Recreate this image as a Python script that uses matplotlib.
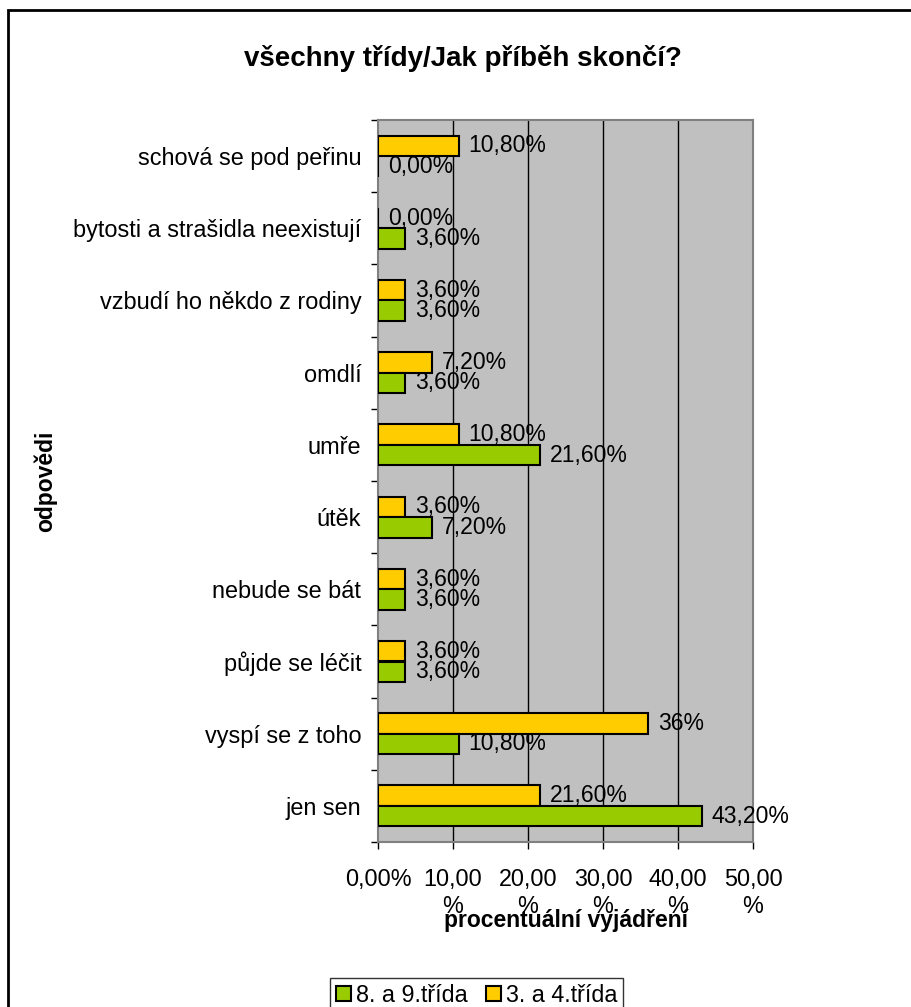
import numpy as np
import matplotlib.pyplot as plt
from matplotlib.patches import Rectangle
from matplotlib.ticker import FixedLocator

plt.rcParams['font.family'] = ['Liberation Sans', 'DejaVu Sans']

# data (top to bottom as in the chart)
odpovedi = ['schová se pod peřinu', 'bytosti a strašidla neexistují', 'vzbudí ho někdo z rodiny',
            'omdlí', 'umře', 'útěk', 'nebude se bát', 'půjde se léčit', 'vyspí se z toho', 'jen sen']
trida_8_9 = [0, 3.6, 3.6, 3.6, 21.6, 7.2, 3.6, 3.6, 10.8, 43.2]
trida_3_4 = [10.8, 0, 3.6, 7.2, 10.8, 3.6, 3.6, 3.6, 36, 21.6]
popisky_8_9 = ['0,00%', '3,60%', '3,60%', '3,60%', '21,60%', '7,20%', '3,60%', '3,60%', '10,80%', '43,20%']
popisky_3_4 = ['10,80%', '0,00%', '3,60%', '7,20%', '10,80%', '3,60%', '3,60%', '3,60%', '36%', '21,60%']
x_ticks = [0, 10, 20, 30, 40, 50]
x_labels = ['0,00%', '10,00\n%', '20,00\n%', '30,00\n%', '40,00\n%', '50,00\n%']

W, H = 911, 1007
fig = plt.figure(figsize=(W / 100, H / 100), dpi=100)
ax = fig.add_axes([378 / W, 1 - 842 / H, 375 / W, 722 / H])
ax.set_facecolor('#C0C0C0')

y = np.arange(len(odpovedi))
h = 0.284
b1 = ax.barh(y - h / 2, trida_3_4, height=h, color='#FFCC00', edgecolor='black', linewidth=1.5,
             label='3. a 4.třída', zorder=3)
b2 = ax.barh(y + h / 2, trida_8_9, height=h, color='#99CC00', edgecolor='black', linewidth=1.5,
             label='8. a 9.třída', zorder=3)
ax.bar_label(b1, labels=popisky_3_4, padding=7, fontsize=16.6, zorder=4)
ax.bar_label(b2, labels=popisky_8_9, padding=7, fontsize=16.6, zorder=4)

ax.set_xlim(0, 50)
ax.set_ylim(len(odpovedi) - 0.5, -0.5)
ax.set_xticks(x_ticks)
ax.set_xticklabels(x_labels, fontsize=16.8)
ax.tick_params(axis='x', length=5, width=1, pad=14)
for xv in x_ticks[1:-1]:
    ax.axvline(xv, color='black', linewidth=1, zorder=1)

ax.yaxis.set_major_locator(FixedLocator(np.arange(-0.5, len(odpovedi), 1)))
ax.yaxis.set_major_formatter(plt.NullFormatter())
ax.yaxis.set_minor_locator(FixedLocator(y))
ax.set_yticklabels(odpovedi, minor=True, fontsize=16.9)
ax.tick_params(axis='y', which='major', length=5, width=1)
ax.tick_params(axis='y', which='minor', length=0, pad=12)

for s in ax.spines.values():
    s.set_color('#808080')
    s.set_linewidth(1.5)

ax.set_xlabel('procentuální vyjádření', fontsize=16.5, fontweight='bold', va='center')
ax.xaxis.set_label_coords(0.5, -(920 - 842) / 722)
ax.set_ylabel('odpovědi', fontsize=16.5, fontweight='bold', va='center')
ax.yaxis.set_label_coords((45 - 378) / 375, 0.5)

fig.text(463 / W, 1 - 58 / H, 'všechny třídy/Jak příběh skončí?',
         fontsize=20, fontweight='bold', ha='center', va='center')

fig.legend(handles=[b2, b1], loc='upper left', bbox_to_anchor=(330 / W, 1 - 978 / H),
           ncol=2, fontsize=16.8, frameon=True, fancybox=False, edgecolor='black',
           handlelength=0.65, handleheight=0.65, handletextpad=0.2, columnspacing=0.8,
           borderpad=0.25, borderaxespad=0)

fig.patches.append(Rectangle((8 / W, -0.1), 1.5, 1.1 - 10 / H, transform=fig.transFigure,
                             fill=False, edgecolor='black', linewidth=2))

fig.savefig('out.png', dpi=100)
